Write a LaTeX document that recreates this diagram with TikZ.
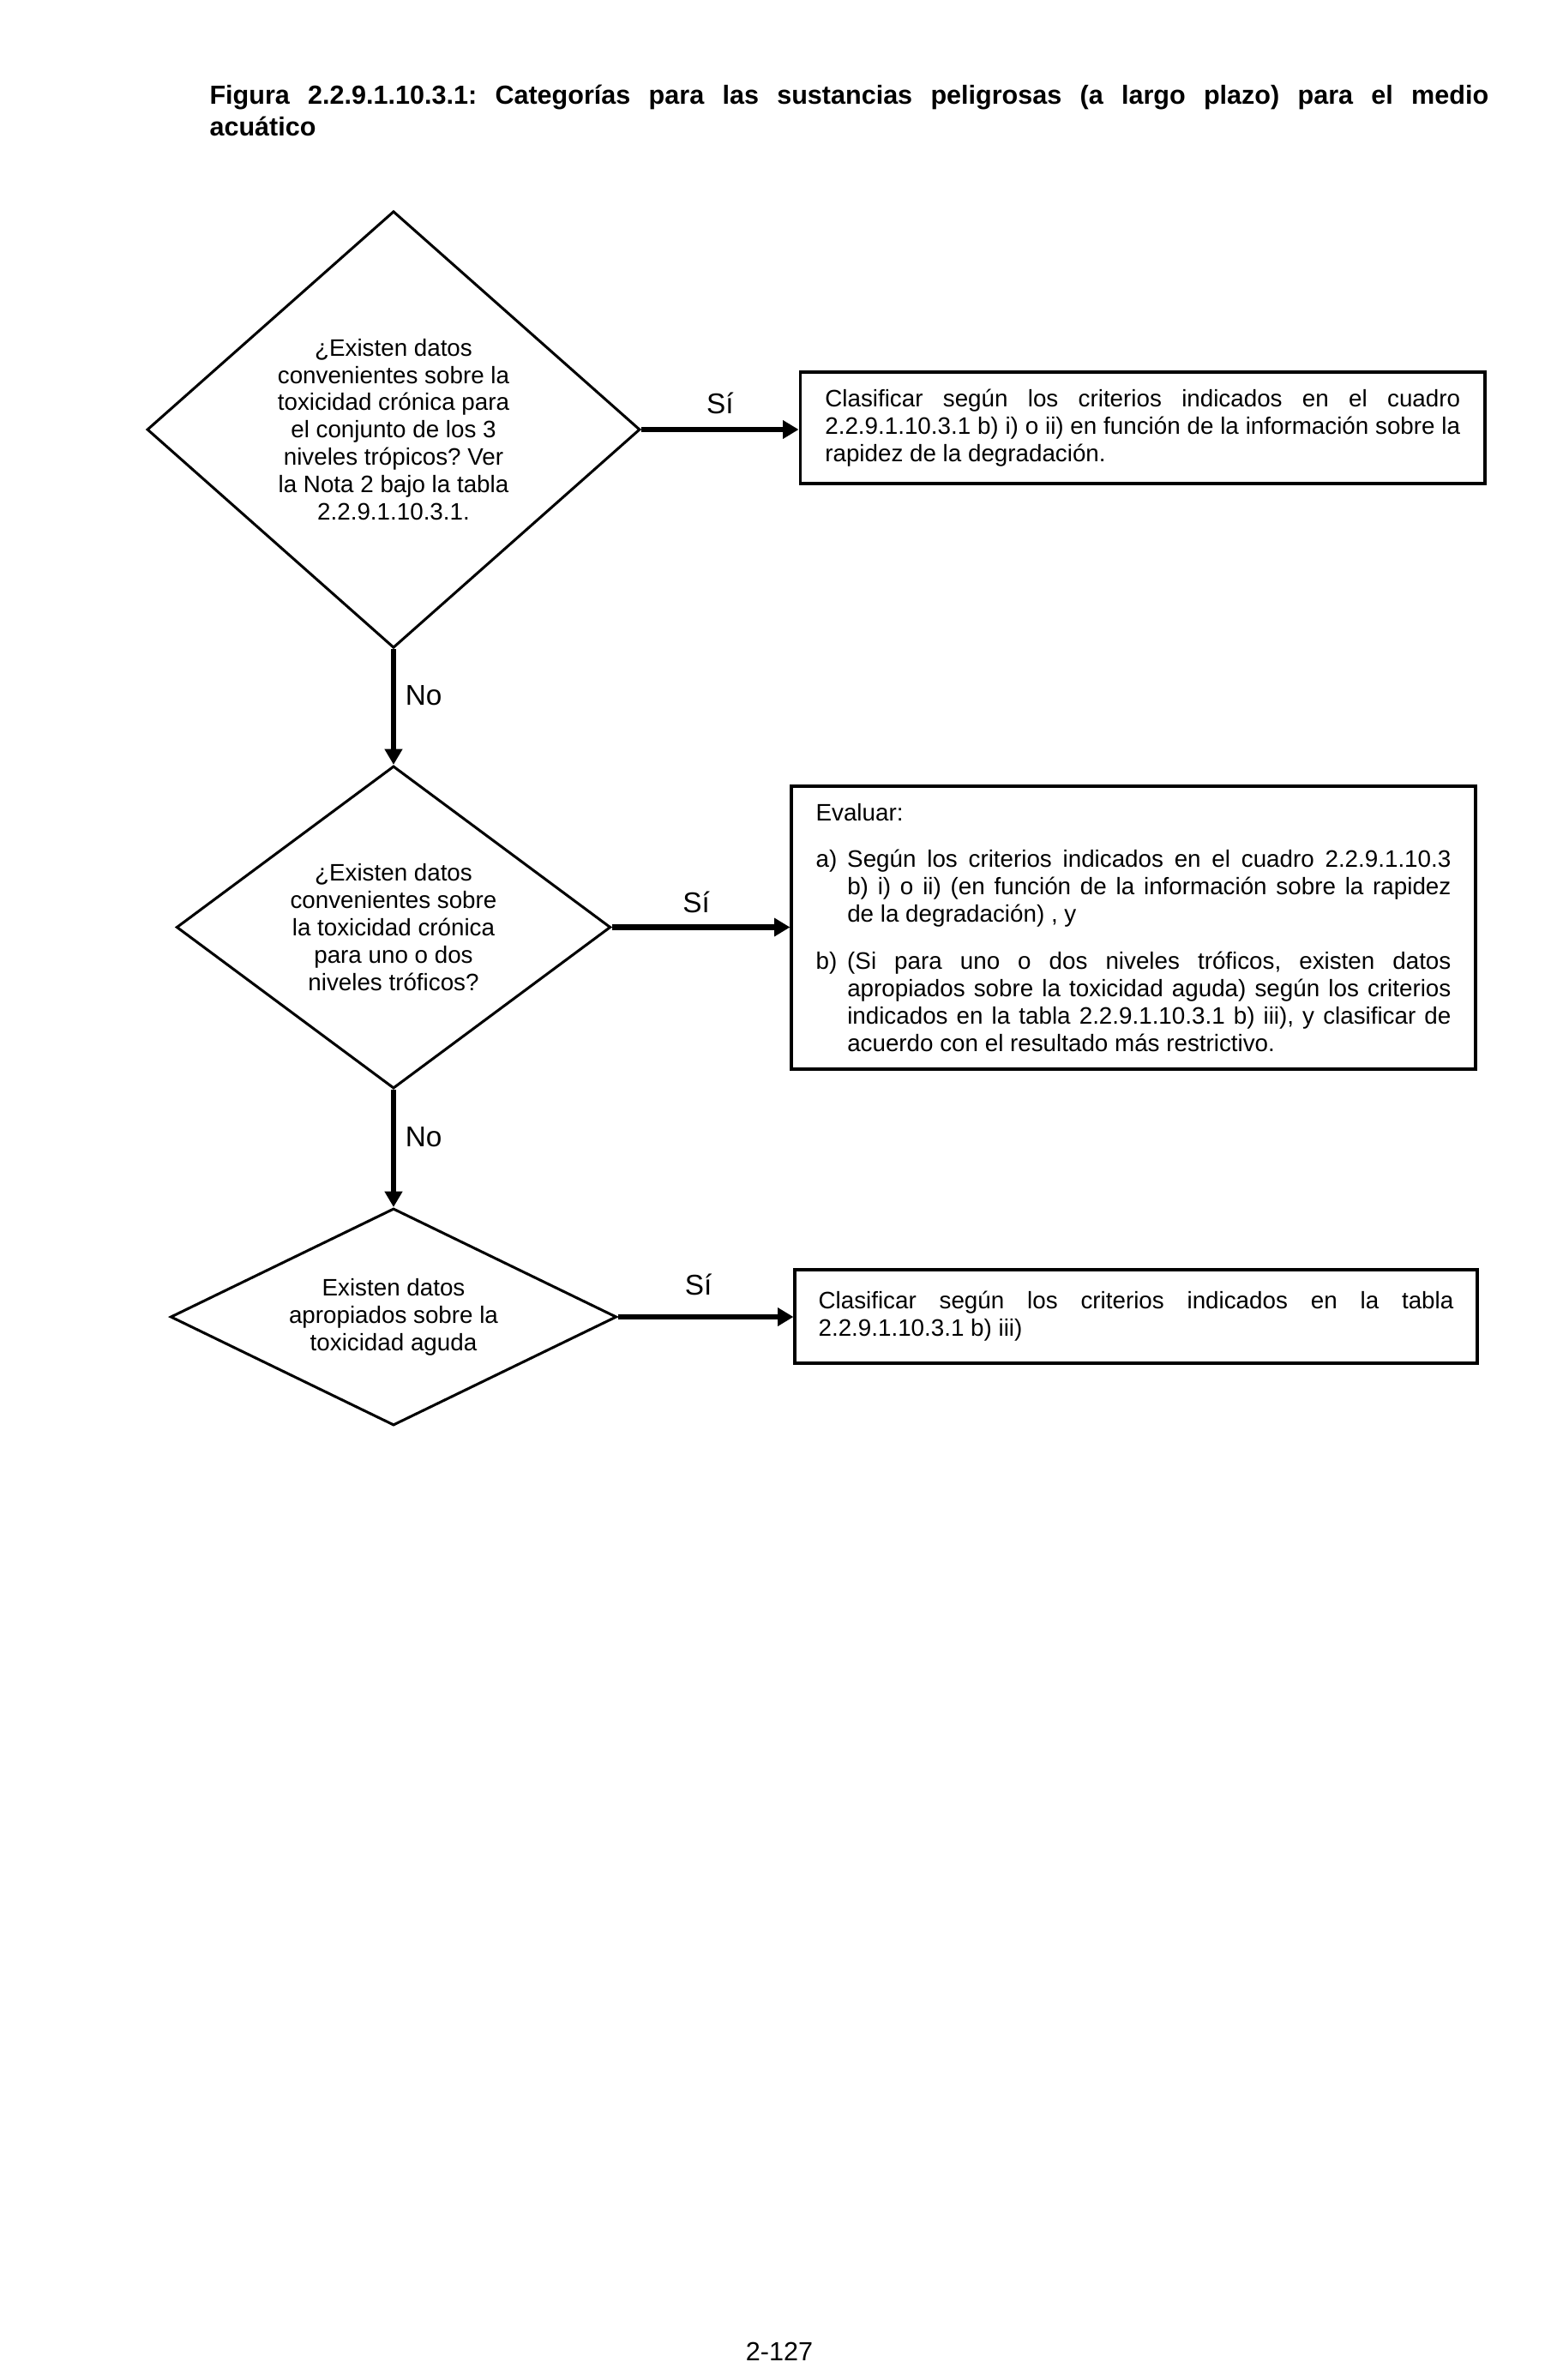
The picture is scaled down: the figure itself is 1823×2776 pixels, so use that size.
\documentclass[tikz,border=0pt]{standalone}
\usepackage{fontspec}
\setmainfont{Liberation Sans}
\usetikzlibrary{shapes.geometric,arrows.meta}
\begin{document}
\frenchspacing
\begin{tikzpicture}[x=0.36pt,y=-0.36pt,
  dec/.style={diamond, draw, line width=1.1pt, inner sep=0pt, align=center,
    font=\fontsize{10}{11.5}\selectfont\frenchspacing},
  act/.style={rectangle, draw, line width=1.4pt, text width=266.7pt, align=justify,
    inner ysep=0pt, font=\fontsize{10}{11.5}\selectfont\frenchspacing\setlength\parindent{0pt}},
  yesarrow/.style={line width=2.2pt, -{Triangle[length=6.6pt,width=7.4pt]}},
  noarrow/.style={line width=2pt, -{Triangle[length=6.6pt,width=7.2pt]}},
  lab/.style={font=\fontsize{12}{14}\selectfont, inner sep=0pt}]
\useasboundingbox (0,0) rectangle (1823,2776);

\node[anchor=north west, inner sep=0pt, text width=537pt, align=justify,
  font=\fontsize{11}{13.3}\selectfont\bfseries\frenchspacing] (title) at (244,99)
  {Figura 2.2.9.1.10.3.1: Categorías para las sustancias peligrosas (a largo plazo) para el medio\linebreak acuático};

\node[dec, minimum width=207pt, minimum height=183.4pt, aspect=1.13] (d1) at (459,501)
  {¿Existen datos\\convenientes sobre la\\toxicidad crónica para\\el conjunto de los 3\\niveles trópicos? Ver\\la Nota 2 bajo la tabla\\2.2.9.1.10.3.1.};

\node[dec, minimum width=182.3pt, minimum height=135.4pt, aspect=1.35] (d2) at (459,1081.5)
  {¿Existen datos\\convenientes sobre\\la toxicidad crónica\\para uno o dos\\niveles tróficos?};

\node[dec, minimum width=187.3pt, minimum height=91.1pt, aspect=2.05] (d3) at (459,1536)
  {Existen datos\\apropiados sobre la\\toxicidad aguda};

\node[act, minimum height=46.8pt, minimum width=287.5pt, inner xsep=10.4pt] (b1) at (1332.75,499)
  {Clasificar según los criterios indicados en el cuadro\linebreak
   2.2.9.1.10.3.1 b) i) o ii) en función de la información sobre la\linebreak
   rapidez de la degradación.};

\node[act, minimum height=119.1pt, minimum width=287pt, inner xsep=10.15pt] (b2) at (1322,1082)
  {Evaluar:\par\vspace{7.9pt}
   \hangindent=13.2pt\hangafter=1\makebox[13.2pt][l]{a)}Según los criterios indicados en el cuadro 2.2.9.1.10.3\linebreak
   b) i) o ii) (en función de la información sobre la rapidez\linebreak
   de la degradación) , y\par\vspace{8.2pt}
   \hangindent=13.2pt\hangafter=1\makebox[13.2pt][l]{b)}(Si para uno o dos niveles tróficos, existen datos\linebreak
   apropiados sobre la toxicidad aguda) según los criterios\linebreak
   indicados en la tabla 2.2.9.1.10.3.1 b) iii), y clasificar de\linebreak
   acuerdo con el resultado más restrictivo.\par};

\node[act, minimum height=39.3pt, minimum width=286.3pt, inner xsep=9.8pt] (b3) at (1325,1535.5)
  {Clasificar según los criterios indicados en la tabla\linebreak
   2.2.9.1.10.3.1 b) iii)};

\draw[yesarrow] (d1.east) -- node[lab, midway, above, yshift=5.3pt] {Sí} (d1.east -| b1.west);
\draw[yesarrow] (d2.east) -- node[lab, midway, above, yshift=5pt, xshift=-2pt] {Sí} (d2.east -| b2.west);
\draw[yesarrow] (d3.east) -- node[lab, midway, above, yshift=7.8pt, xshift=-3pt] {Sí} (d3.east -| b3.west);

\draw[noarrow] (d1.south) -- node[lab, pos=0.4, anchor=west, xshift=4pt] {No} (d2.north);
\draw[noarrow] (d2.south) -- node[lab, pos=0.4, anchor=west, xshift=4pt] {No} (d3.north);

\node[font=\fontsize{11}{13}\selectfont, inner sep=0pt] (page) at (909,2743) {2-127};
\end{tikzpicture}
\end{document}
